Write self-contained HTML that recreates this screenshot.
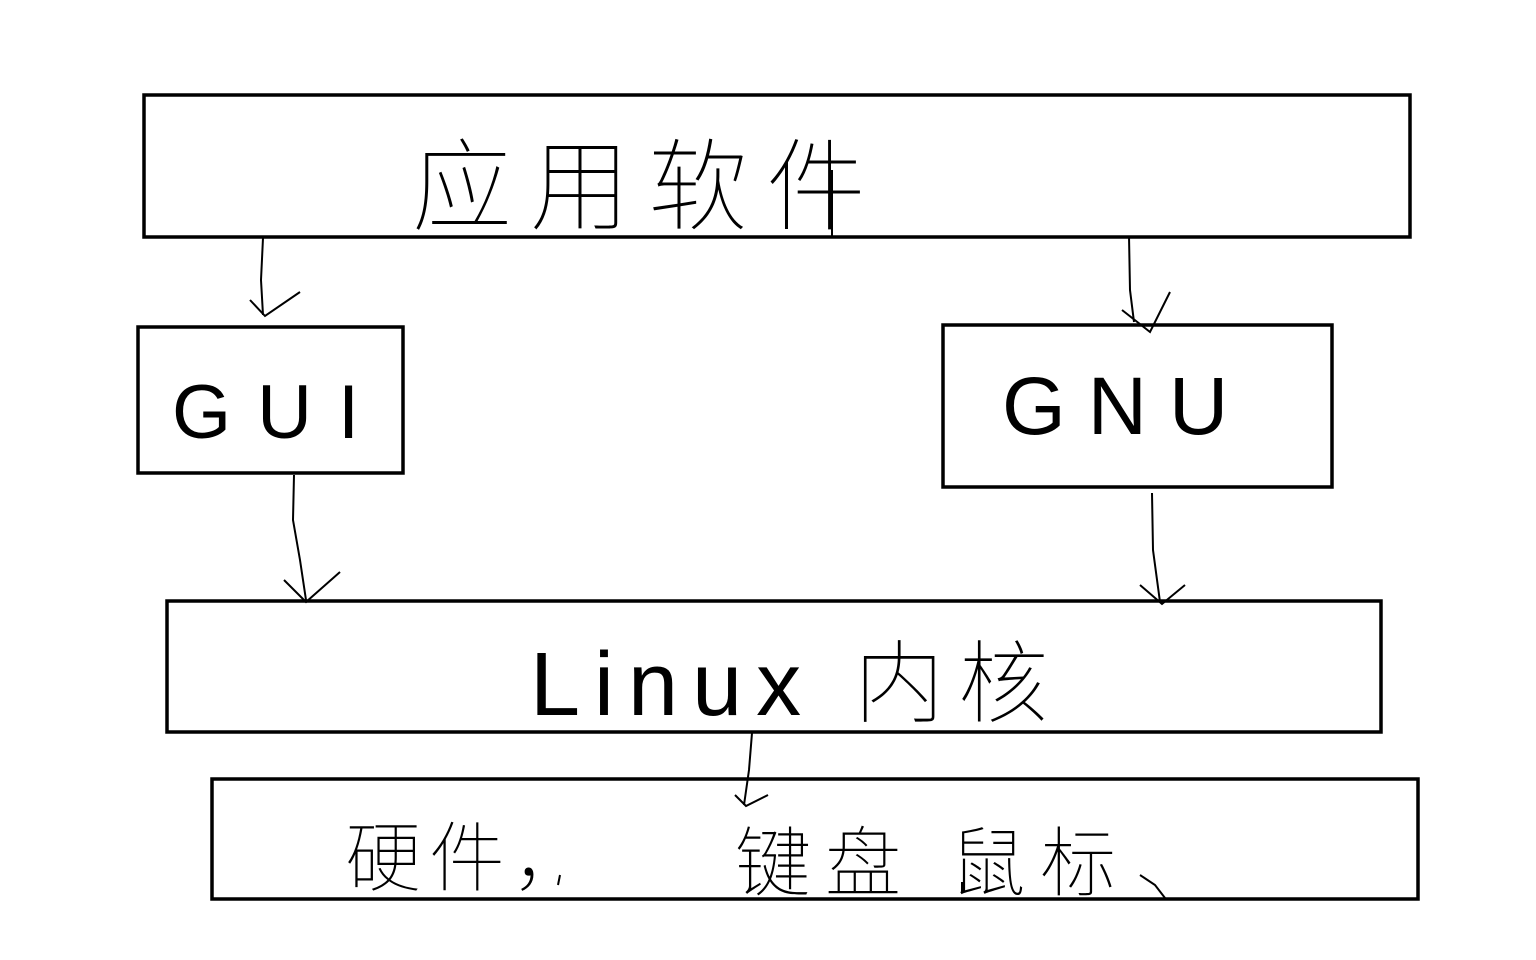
<!DOCTYPE html>
<html><head><meta charset="utf-8"><style>
html,body{margin:0;padding:0;background:#fff;width:1536px;height:960px;overflow:hidden}
svg{display:block}
text{font-family:"Liberation Sans","Noto Sans CJK SC",sans-serif;fill:#000;font-weight:100}
</style></head><body>
<svg width="1536" height="960" viewBox="0 0 1536 960" xmlns="http://www.w3.org/2000/svg">
<g fill="none" stroke="#000" stroke-width="3.5">
<rect x="144" y="95" width="1266" height="142"/>
<rect x="138" y="327" width="265" height="146"/>
<rect x="943" y="325" width="389" height="162"/>
<rect x="167" y="601" width="1214" height="131"/>
<rect x="212" y="779" width="1206" height="120"/>
</g>
<g fill="none" stroke="#000" stroke-width="2">
<polyline points="263,238 261,280 263,315"/>
<polyline points="250,300 265,316 300,292"/>
<polyline points="1129,236 1130,290 1134,322"/>
<polyline points="1122,310 1150,332 1170,292"/>
<polyline points="294,475 293,520 300,560 306,600"/>
<polyline points="284,580 306,602 340,572"/>
<polyline points="1152,493 1153,550 1160,602"/>
<polyline points="1140,585 1162,604 1185,585"/>
<polyline points="752,733 749,770 744,805"/>
<polyline points="735,795 746,806 768,795"/>
<line x1="832" y1="170" x2="832" y2="237"/>
<line x1="560" y1="875" x2="558" y2="885"/>
<line x1="962" y1="882" x2="962" y2="892"/>
<polyline points="1140,875 1155,885 1165,898"/>
</g>
<text x="412" y="222" font-size="100" letter-spacing="18">应用软件</text>
<text x="172" y="438" font-size="76" letter-spacing="26">GUI</text>
<text x="1002" y="434" font-size="82" letter-spacing="22">GNU</text>
<text x="530" y="715" font-size="90" letter-spacing="14">Linux 内核</text>
<text x="345" y="885" font-size="76" letter-spacing="8">硬件，</text>
<text x="735" y="890" font-size="76" letter-spacing="14">键盘 鼠标</text>
</svg>
</body></html>
